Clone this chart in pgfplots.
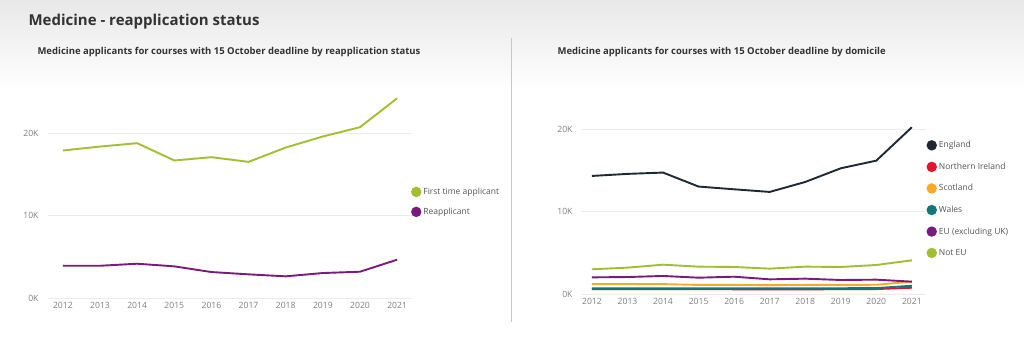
\documentclass[border=0pt]{standalone}
\usepackage{pgfplots}
\pgfplotsset{compat=1.18}
\usepackage{fontspec}
\setmainfont{Open Sans}
\definecolor{cgreen}{HTML}{A2BF32}
\definecolor{cpurple}{HTML}{7A1A7C}
\definecolor{cnavy}{HTML}{1F2833}
\definecolor{cred}{HTML}{E5132C}
\definecolor{corange}{HTML}{F8AA26}
\definecolor{cteal}{HTML}{147878}
\definecolor{ctick}{HTML}{7F7F7F}
\definecolor{clegend}{HTML}{555555}
\definecolor{ctitle}{HTML}{333333}
\pgfplotsset{
  mystyle/.style={
    scale only axis,
    axis line style={draw=none},
    tick style={draw=none},
    ymajorgrids,
    major grid style={color=black!8, line width=0.8pt},
    ymin=0,
    scaled y ticks=false,
    xtick={2012,2013,2014,2015,2016,2017,2018,2019,2020,2021},
    ytick={0,10000,20000},
    yticklabels={0K,10K,20K},
    x tick label style={font=\fontsize{8.6}{10}\selectfont, text=ctick, /pgf/number format/1000 sep={}, /pgf/number format/assume math mode=true, yshift=-1pt},
    y tick label style={font=\fontsize{8.6}{10}\selectfont, text=ctick, xshift=-6pt},
    every axis plot/.append style={line width=1.9pt, mark=none},
    legend image code/.code={\fill (3pt,0pt) circle (4.2pt);},
    legend cell align=left,
    legend style={draw=none, fill=none, font=\fontsize{8.5}{10}\selectfont, text=clegend, inner sep=0pt,
      /tikz/every even column/.append style={column sep=0pt}},
  }
}
\begin{document}
\begin{tikzpicture}
\shade[top color=black!9, bottom color=white] (0pt,345pt) rectangle (1024pt,255pt);
\fill[white] (0pt,0pt) rectangle (1024pt,255pt);
\path[use as bounding box] (0pt,0pt) rectangle (1024pt,345pt);
\draw[black!22, line width=1pt] (511.7pt,307pt) -- (511.7pt,23pt);
\node[anchor=west, font=\bfseries\fontsize{15}{17}\selectfont, text=ctitle] at (25pt,323.5pt) {Medicine - reapplication status};
\node[anchor=west, font=\bfseries\fontsize{9.5}{11}\selectfont, text=ctitle] at (34pt,292.5pt) {Medicine applicants for courses with 15 October deadline by reapplication status};
\node[anchor=west, font=\bfseries\fontsize{9.5}{11}\selectfont, text=ctitle] at (554pt,292.5pt) {Medicine applicants for courses with 15 October deadline by domicile};

\begin{axis}[mystyle, at={(48pt,47pt)}, anchor=south west,
  width=364pt, height=206pt, xmin=2011.6, xmax=2021.4, ymax=25000,
  legend style={at={(0.997,0.545)}, anchor=north west, row sep=8pt}]
\addplot[cgreen] coordinates {(2012,17900) (2013,18380) (2014,18790) (2015,16690) (2016,17090) (2017,16520) (2018,18260) (2019,19600) (2020,20730) (2021,24240)};
\addlegendentry{First time applicant}
\addplot[cpurple] coordinates {(2012,3920) (2013,3910) (2014,4160) (2015,3840) (2016,3150) (2017,2870) (2018,2630) (2019,3030) (2020,3190) (2021,4650)};
\addlegendentry{Reapplicant}
\end{axis}

\begin{axis}[mystyle, at={(582pt,51pt)}, anchor=south west,
  width=343pt, height=173pt, xmin=2011.72, xmax=2021.37, ymax=21000,
  legend style={at={(1.004,0.895)}, anchor=north west, row sep=9.6pt}]
\addplot[cnavy] coordinates {(2012,14330) (2013,14580) (2014,14740) (2015,13040) (2016,12710) (2017,12390) (2018,13600) (2019,15260) (2020,16190) (2021,20240)};
\addlegendentry{England}
\addplot[cred] coordinates {(2012,600) (2013,600) (2014,590) (2015,580) (2016,570) (2017,560) (2018,560) (2019,580) (2020,600) (2021,760)};
\addlegendentry{Northern Ireland}
\addplot[corange] coordinates {(2012,1210) (2013,1210) (2014,1200) (2015,1100) (2016,1100) (2017,1080) (2018,1100) (2019,1100) (2020,1120) (2021,1500)};
\addlegendentry{Scotland}
\addplot[cteal] coordinates {(2012,700) (2013,700) (2014,700) (2015,690) (2016,680) (2017,680) (2018,690) (2019,700) (2020,720) (2021,1000)};
\addlegendentry{Wales}
\addplot[cpurple] coordinates {(2012,2020) (2013,2060) (2014,2190) (2015,1980) (2016,2100) (2017,1780) (2018,1860) (2019,1700) (2020,1740) (2021,1500)};
\addlegendentry{EU (excluding UK)}
\addplot[cgreen] coordinates {(2012,3000) (2013,3200) (2014,3560) (2015,3320) (2016,3280) (2017,3080) (2018,3320) (2019,3280) (2020,3520) (2021,4090)};
\addlegendentry{Not EU}
\end{axis}
\end{tikzpicture}
\end{document}
